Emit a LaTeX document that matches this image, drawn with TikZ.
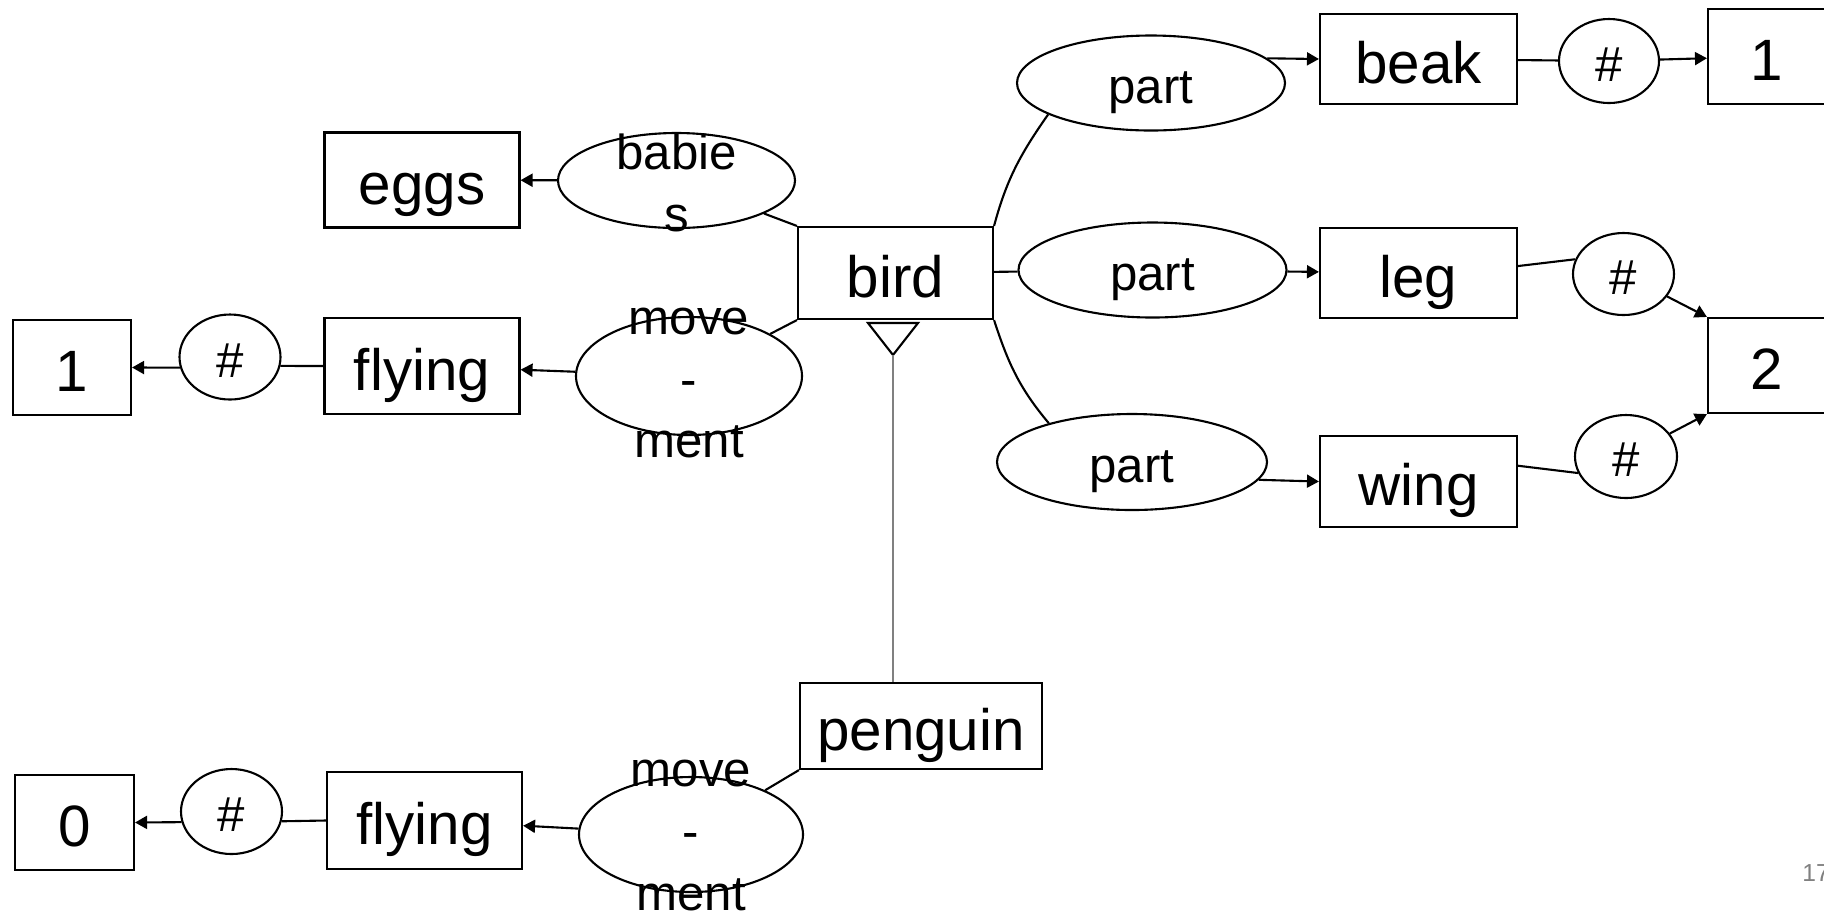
\documentclass[tikz,border=0pt]{standalone}
\usepackage{fontspec}
\setmainfont{Liberation Sans}
\usetikzlibrary{shapes.geometric, arrows.meta}
\tikzstyle{concept} = [
	rectangle,
	minimum width=1.95cm,
	minimum height=0.92cm,
	inner sep=0pt,
	text height=16.5pt,
	text depth=2.8pt,
	font=\fontsize{16.6}{20}\selectfont,
	draw=black,
	line width=0.6pt
]
\tikzstyle{number} = [concept, minimum width=1.18cm, minimum height=0.95cm]
\tikzstyle{relation} = [
	ellipse,
	minimum width=2.68cm,
	minimum height=0.95cm,
	inner sep=0pt,
	text height=14pt,
	text depth=2.4pt,
	font=\fontsize{14}{17.6}\selectfont,
	draw=black,
	line width=0.6pt
]
\tikzstyle{count} = [relation, minimum width=1.01cm, minimum height=0.84cm]
\tikzstyle{spill} = [font=\fontsize{14}{17.6}\selectfont, align=center, inner sep=0pt]
\tikzstyle{link} = [line width=0.6pt]
\tikzstyle{arrow} = [line width=0.6pt, -{Triangle[length=1.2mm,width=1.3mm]}]

\begin{document}
\begin{tikzpicture}
    \useasboundingbox (0,0) rectangle (18.24,-9.17);
    % bird and what it has
    \node[concept] at (8.955,-2.73) (bird) {bird};
    \node[concept, minimum height=0.95cm] at (4.22,-1.80) (eggs) {eggs};
    \node[relation, minimum width=2.37cm, label={[spill, yshift=-0.02cm]center:babie\\s}] at (6.765,-1.805) (babies) {};
    \node[relation, minimum width=2.26cm, minimum height=1.18cm, label={[spill, yshift=-0.07cm]center:move\\-\\ment}] at (6.89,-3.76) (move A) {};
    \node[concept, minimum height=0.96cm] at (4.22,-3.66) (flying A) {flying};
    \node[count, minimum height=0.85cm] at (2.30,-3.57) (count A) {\#};
    \node[number] at (0.72,-3.675) (one A) {1};
    % parts
    \node[relation] at (11.51,-0.83) (part A) {part};
    \node[relation] at (11.525,-2.70) (part B) {part};
    \node[relation, minimum width=2.70cm, minimum height=0.96cm] at (11.32,-4.62) (part C) {part};
    \node[concept, minimum width=1.97cm, minimum height=0.90cm] at (14.185,-0.59) (beak) {beak};
    \node[concept, minimum width=1.97cm, minimum height=0.90cm] at (14.185,-2.73) (leg) {leg};
    \node[concept, minimum width=1.97cm, minimum height=0.91cm] at (14.185,-4.815) (wing) {wing};
    \node[count, minimum width=1.00cm] at (16.09,-0.61) (count B) {\#};
    \node[count, minimum height=0.82cm] at (16.235,-2.74) (count C) {\#};
    \node[count, minimum width=1.02cm, minimum height=0.83cm] at (16.26,-4.565) (count D) {\#};
    \node[number] at (17.67,-0.565) (one B) {1};
    \node[number] at (17.67,-3.655) (two) {2};
    % penguin
    \node[concept, minimum width=2.42cm, minimum height=0.86cm] at (9.21,-7.26) (penguin) {penguin};
    \node[relation, minimum width=2.24cm, minimum height=1.15cm, label={[spill, yshift=-0.01cm]center:move\\-\\ment}] at (6.91,-8.345) (move B) {};
    \node[concept, minimum height=0.97cm] at (4.245,-8.205) (flying B) {flying};
    \node[count, minimum height=0.85cm] at (2.315,-8.115) (count E) {\#};
    \node[number, minimum width=1.19cm] at (0.745,-8.225) (zero) {0};
    \node[anchor=base west, text=gray, font=\fontsize{7}{8}\selectfont] at (17.90,-8.81) (page) {17};
    % is-a
    \coordinate (isa) at (8.93,-3.55);
    \draw[link] (isa) -- ++(-0.25,0.32) -- ++(0.5,0) -- cycle;
    \draw[gray, line width=0.3pt] (isa) -- (isa |- penguin.north);
    % left side
    \draw[link] (bird.north west) -- (babies);
    \draw[arrow] (babies) -- (eggs);
    \draw[link] (bird.south west) -- (move A);
    \draw[arrow] (move A) -- (flying A);
    \draw[link] (flying A.west) -- (count A.-10);
    \draw[arrow] (count A.-168) -- (one A.east);
    \draw[link] (penguin.south west) -- (move B);
    \draw[arrow] (move B) -- (flying B);
    \draw[link] (flying B.west) -- (count E.-11);
    \draw[arrow] (count E.-168) -- (zero.east);
    % right side
    \draw[link] (bird.north east) to[out=75,in=-125] (part A.-163);
    \draw[link] (bird) -- (part B);
    \draw[link] (bird.south east) to[out=-72,in=130] (part C.155);
    \draw[arrow] (part A.12) -- (beak.west);
    \draw[arrow] (part B) -- (leg);
    \draw[arrow] (part C.-8) -- (wing.west);
    \draw[link] (beak) -- (count B);
    \draw[arrow] (count B) -- (one B);
    \draw[link] (leg.4) -- (count C.163);
    \draw[arrow] (count C) -- (two.north west);
    \draw[link] (wing.9) -- (count D.-161);
    \draw[arrow] (count D) -- (two.south west);
\end{tikzpicture}
\end{document}
